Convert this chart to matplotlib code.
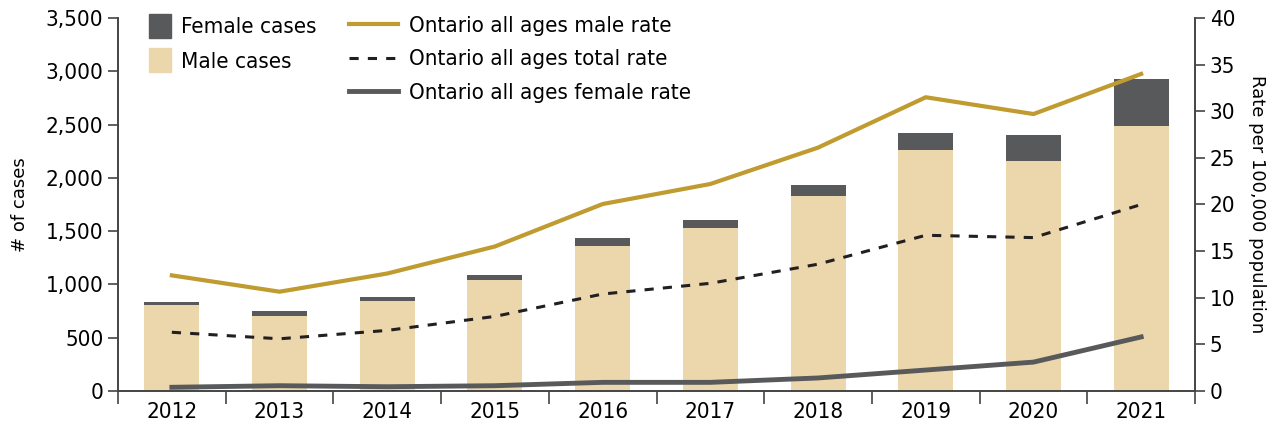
import numpy as np
import matplotlib.pyplot as plt
from matplotlib.patches import Patch
from matplotlib.lines import Line2D

# data
years = ["2012", "2013", "2014", "2015", "2016", "2017", "2018", "2019", "2020", "2021"]
male_cases = [807, 707, 848, 1045, 1364, 1530, 1830, 2262, 2158, 2487]
female_cases = [28, 44, 34, 44, 72, 75, 103, 159, 244, 441]
male_rate = [12.4, 10.65, 12.6, 15.5, 20.05, 22.2, 26.1, 31.5, 29.7, 34.0]
total_rate = [6.3, 5.6, 6.5, 8.0, 10.4, 11.55, 13.6, 16.7, 16.45, 20.0]
female_rate = [0.4, 0.57, 0.46, 0.57, 0.93, 0.93, 1.4, 2.25, 3.1, 5.8]

plt.rcParams['font.family'] = ['DejaVu Sans']
plt.rcParams['font.stretch'] = 'condensed'

tan = "#ECD6AB"
dark = "#58595B"
gold = "#BF9B30"

fig = plt.figure(figsize=(12.84, 4.28), dpi=100)
ax = fig.add_axes([0.0919, 0.0864, 0.8388, 0.8716])
ax2 = ax.twinx()

x = np.arange(len(years))
ax.bar(x, male_cases, width=0.51, color=tan, zorder=2)
ax.bar(x, female_cases, width=0.51, bottom=male_cases, color=dark, zorder=2)

ax2.plot(x, male_rate, color=gold, lw=3, zorder=3)
ax2.plot(x, total_rate, color="#231F20", lw=2.2, ls=(0, (3, 3)), zorder=3)
ax2.plot(x, female_rate, color=dark, lw=3.5, zorder=3)

ax.set_xlim(-0.5, len(years) - 0.5)
ax.set_ylim(0, 3500)
ax2.set_ylim(0, 40)
ax.set_yticks(np.arange(0, 3501, 500))
ax.set_yticklabels([f"{v:,}" for v in range(0, 3501, 500)])
ax2.set_yticks(np.arange(0, 41, 5))

# category labels centred, tick marks between categories
ax.set_xticks(x)
ax.set_xticklabels(years)
ax.set_xticks(np.arange(-0.5, len(years), 1), minor=True)
ax.tick_params(axis='x', which='major', length=0, labelsize=16, pad=8)
ax.tick_params(axis='x', which='minor', length=9, width=1.2, color="#444444")
ax.tick_params(axis='y', length=7, width=1.2, color="#444444", labelsize=16)
ax2.tick_params(axis='y', length=7, width=1.2, color="#444444", labelsize=16)

for a in (ax, ax2):
    a.spines['top'].set_visible(False)
    for s in ('left', 'right', 'bottom'):
        a.spines[s].set_color("#444444")
        a.spines[s].set_linewidth(1.2)

ax.set_ylabel("# of cases", fontsize=13, fontstretch='normal', labelpad=12)
ax2.set_ylabel("Rate per 100,000 population", fontsize=13, fontstretch='normal',
               rotation=270, labelpad=22)

bar_handles = [Patch(color=dark), Patch(color=tan)]
leg1 = ax.legend(bar_handles, ["Female cases", "Male cases"], loc='upper left',
                 bbox_to_anchor=(0.01, 1.065), frameon=False, fontsize=16,
                 handlelength=1.0, handleheight=1.3, handletextpad=0.45, labelspacing=0.45)
line_handles = [Line2D([], [], color=gold, lw=3),
                Line2D([], [], color="#231F20", lw=2.2, ls=(0, (3, 3))),
                Line2D([], [], color=dark, lw=3.5)]
ax.legend(line_handles, ["Ontario all ages male rate", "Ontario all ages total rate",
                         "Ontario all ages female rate"], loc='upper left',
          bbox_to_anchor=(0.196, 1.06), frameon=False, fontsize=16,
          handlelength=2.2, handletextpad=0.5, labelspacing=0.62)
ax.add_artist(leg1)

fig.savefig("out.png", dpi=100)
